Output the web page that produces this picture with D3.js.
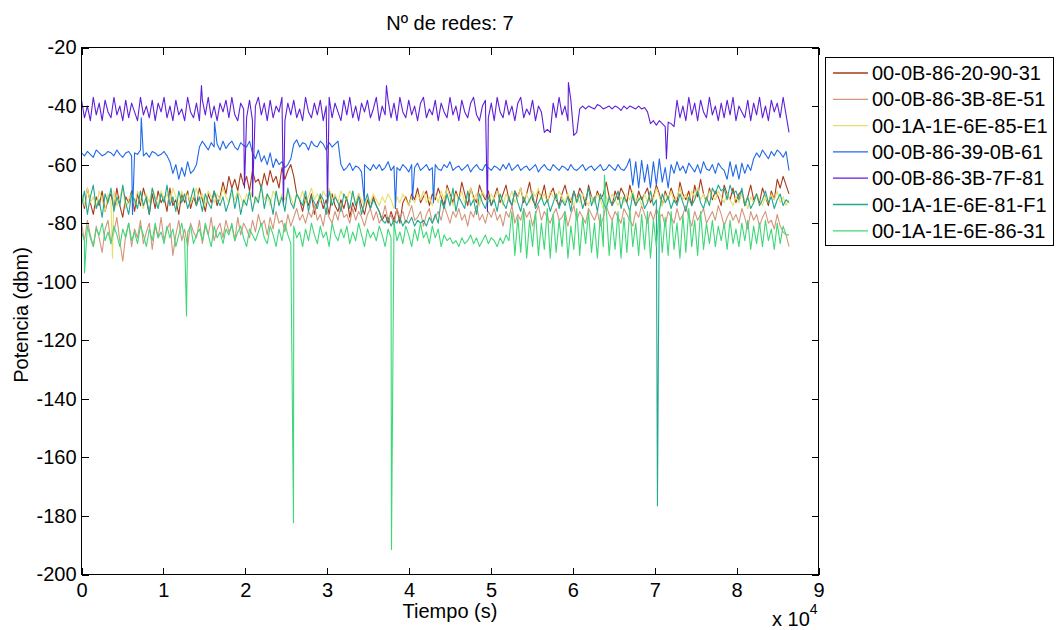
<!DOCTYPE html>
<meta charset="utf-8">
<style>
body { margin: 0; background: #fff; }
text { font-family: Arial, "Liberation Sans", sans-serif; fill: #000; }
.axis path { display: none; }
.axis line { stroke: #000; shape-rendering: crispEdges; }
.axis text { font-size: 20px; }
.serie { fill: none; stroke-width: 1.1px; stroke-linejoin: round; }
</style>
<body>
<script src="https://d3js.org/d3.v7.min.js"></script>
<script>
// one reading every 360 s, 0 .. 86400 s
const step = 360;

const names = ["00-0B-86-20-90-31", "00-0B-86-3B-8E-51", "00-1A-1E-6E-85-E1",
  "00-0B-86-39-0B-61", "00-0B-86-3B-7F-81", "00-1A-1E-6E-81-F1", "00-1A-1E-6E-86-31"];
const colors = ["#a83a1c", "#d4957b", "#e6df6c", "#2069e8", "#5f1fd8", "#21a88f", "#3fd878"];

const red = [-70,-75,-68,-73,-77,-71,-74,-69,-76,-72,-70,-75,-68,-74,-78,-71,-73,-69,-76,-70,
  -74,-68,-72,-77,-70,-75,-69,-73,-71,-76,-68,-74,-72,-77,-70,-73,-69,-75,-71,-74,
  -68,-72,-76,-70,-73,-69,-74,-71,-66,-70,-64,-68,-65,-69,-63,-67,-64,-69,-62,-66,
  -65,-68,-63,-67,-62,-66,-64,-68,-61,-65,-62,-60,-64,-70,-72,-76,-71,-74,-70,-77,
  -73,-71,-75,-72,-77,-70,-74,-76,-72,-75,-71,-78,-73,-76,-70,-74,-77,-72,-75,-71,
  -74,-76,-79,-77,-80,-76,-79,-75,-80,-73,-71,-74,-70,-72,-68,-73,-71,-69,-74,-70,
  -72,-68,-71,-74,-67,-70,-73,-69,-72,-66,-70,-74,-68,-71,-73,-67,-70,-72,-69,-74,
  -71,-68,-73,-70,-67,-72,-74,-69,-71,-68,-73,-70,-66,-72,-74,-69,-71,-67,-73,-70,
  -68,-72,-74,-70,-67,-71,-73,-69,-72,-68,-70,-74,-67,-71,-73,-69,-72,-70,-66,-71,
  -74,-69,-72,-68,-70,-73,-67,-71,-74,-69,-72,-70,-68,-73,-71,-67,-70,-74,-69,-72,
  -68,-71,-73,-66,-70,-72,-69,-74,-67,-71,-65,-70,-73,-68,-72,-69,-71,-74,-67,-70,
  -72,-68,-73,-70,-69,-74,-71,-67,-72,-70,-73,-68,-71,-74,-69,-72,-65,-68,-64,-67,
  -70];
const tan = [-80,-86,-79,-84,-88,-81,-85,-90,-82,-79,-87,-83,-78,-86,-93,-84,-80,-88,-82,-85,
  -79,-87,-83,-80,-89,-81,-85,-78,-86,-82,-80,-91,-84,-79,-86,-82,-88,-80,-83,-85,
  -79,-87,-81,-84,-78,-86,-82,-80,-85,-79,-83,-81,-86,-78,-84,-80,-82,-85,-79,-83,
  -77,-81,-79,-84,-78,-82,-76,-80,-79,-83,-77,-81,-78,-75,-79,-77,-80,-76,-78,-74,
  -79,-77,-81,-75,-78,-80,-76,-79,-74,-78,-77,-80,-75,-79,-76,-78,-81,-77,-75,-79,
  -76,-80,-78,-74,-79,-77,-81,-75,-78,-76,-80,-77,-74,-79,-78,-76,-81,-77,-75,-80,
  -78,-76,-79,-74,-77,-80,-76,-78,-75,-79,-77,-81,-76,-78,-74,-79,-77,-80,-76,-78,
  -75,-79,-77,-81,-76,-78,-74,-80,-77,-79,-75,-78,-76,-81,-77,-74,-79,-76,-78,-80,
  -77,-75,-79,-78,-76,-81,-77,-74,-79,-76,-78,-80,-75,-77,-79,-76,-81,-78,-74,-77,
  -79,-76,-78,-80,-75,-77,-79,-81,-76,-78,-74,-77,-80,-76,-79,-75,-78,-77,-81,-76,
  -78,-80,-75,-79,-77,-74,-78,-81,-76,-79,-77,-75,-80,-78,-76,-79,-74,-77,-81,-78,
  -76,-79,-77,-80,-75,-78,-82,-76,-79,-77,-81,-78,-76,-80,-79,-82,-77,-81,-83,-84,
  -88];
const yellow = [-70,-74,-68,-73,-71,-75,-69,-72,-76,-70,-73,-69,-74,-71,-68,-75,-72,-70,-74,-69,
  -72,-75,-70,-73,-68,-71,-74,-69,-72,-70,-73,-68,-71,-74,-69,-72,-70,-73,-71,-68,
  -72,-70,-74,-69,-71,-73,-70,-72,-68,-71,-73,-70,-72,-69,-71,-74,-70,-72,-69,-73,
  -71,-68,-72,-70,-74,-69,-71,-73,-70,-72,-69,-71,-74,-70,-72,-69,-73,-71,-68,-72,
  -70,-73,-69,-71,-68,-72,-70,-73,-69,-71,-72,-69,-71,-73,-70,-72,-74,-71,-73,-70,
  -72,-74,-71,-73,-70,-72,-75,-71,-73,-70,-72,-74,-71,-73,-70,-72,-69,-73,-71,-74,
  -70,-73,-69,-72,-68,-71,-74,-70,-72,-69,-73,-71,-68,-72,-70,-74,-69,-71,-73,-70,
  -72,-69,-71,-74,-70,-72,-69,-73,-71,-68,-72,-70,-73,-69,-71,-68,-72,-70,-73,-69,
  -71,-72,-69,-71,-73,-70,-72,-74,-71,-73,-70,-72,-74,-71,-73,-70,-72,-75,-71,-73,
  -70,-72,-74,-71,-73,-70,-72,-69,-73,-71,-74,-70,-73,-69,-72,-68,-71,-74,-70,-72,
  -69,-73,-71,-68,-72,-70,-73,-69,-71,-68,-72,-70,-73,-69,-71,-72,-69,-71,-73,-70,
  -72,-74,-71,-73,-70,-72,-75,-71,-73,-70,-72,-74,-71,-73,-70,-72,-69,-73,-71,-74,
  -72];
const blue = [-56,-57,-55.5,-56.5,-57.5,-55,-56,-57,-56.5,-55.5,-56,-57,-55,-56.5,-57.5,-56,-55.5,-57,-56,-56.5,
  -55,-57,-56,-57.5,-55.5,-56,-57,-56.5,-55.5,-57,-59,-63,-60,-65,-61,-64,-59,-63,-62,-60,
  -54,-52,-53.5,-55,-52.5,-54,-53,-55,-52,-54.5,-53,-52,-54,-55,-52.5,-53.5,-54,-52,-56,-58,
  -55,-59,-57,-60,-56,-61,-58,-60,-59,-61,-60,-58,-53,-51.5,-54,-52.5,-53,-55,-52,-53.5,
  -54,-52,-53,-55,-52.5,-54,-53,-52,-60,-62,-61,-59.5,-62,-60.5,-61,-62.5,-60,-61,-62,-60,
  -61.5,-60,-62,-61,-59,-62,-60.5,-61,-62,-60,-61,-62.5,-60,-61,-59.5,-62,-61,-60,-62,-61,
  -60,-61.5,-62,-60,-61,-59,-62,-61,-60.5,-62,-61,-60,-62.5,-61,-60,-61.5,-62,-60,-61,-62,
  -60.5,-61,-62,-60,-61.5,-59.5,-62,-61,-60,-62,-61,-60.5,-62,-61,-60,-62.5,-61,-60,-61.5,-62,
  -60,-61,-62,-60.5,-61,-62,-60,-61.5,-62,-61,-60,-62,-61,-60.5,-62,-61,-60,-62,-61.5,-60,
  -61,-62,-60,-61.5,-62,-60.5,-58,-67,-59,-68,-58.5,-66,-60,-68,-59,-67,-58,-66,-61,-68,
  -60,-63,-59,-62,-60.5,-63,-59.5,-61,-62.5,-60,-63,-59,-61.5,-62,-60,-63,-59.5,-61,-62,-65,
  -59,-64,-60,-65,-59.5,-63,-60,-62,-58,-56,-57.5,-55,-56.5,-58,-55.5,-57,-55,-56,-57.5,-55.5,
  -62];
const purple = [-38,-44,-40,-45,-37,-43,-39,-45,-38,-42,-44,-37,-43,-40,-45,-38,-44,-39,-42,-45,
  -37,-43,-40,-44,-38,-45,-39,-42,-37,-44,-40,-45,-38,-43,-41,-45,-37,-42,-44,-39,
  -45,-38,-43,-37,-44,-40,-45,-39,-42,-38,-44,-37,-43,-45,-39,-41,-44,-38,-45,-40,
  -37,-43,-39,-45,-38,-44,-40,-42,-37,-45,-39,-43,-38,-44,-41,-45,-37,-42,-44,-39,
  -43,-38,-45,-40,-37,-44,-39,-42,-45,-38,-43,-37,-44,-40,-45,-39,-42,-38,-44,-41,
  -37,-45,-40,-43,-38,-44,-39,-45,-37,-42,-44,-38,-43,-40,-45,-39,-37,-44,-41,-43,
  -38,-45,-39,-42,-44,-37,-43,-40,-45,-38,-42,-44,-39,-37,-43,-45,-40,-38,-44,-39,
  -45,-37,-42,-44,-38,-43,-40,-45,-39,-37,-44,-41,-43,-38,-45,-40,-42,-49,-48,-49,
  -39,-44,-37,-43,-40,-45,-38,-50,-49,-41,-40,-41,-40,-40.5,-41,-39.5,-40,-41,-40.5,-40,
  -41,-40,-40.5,-41.5,-40,-41,-40,-40.5,-41,-40,-41,-40.5,-42,-46,-45,-46.5,-45,-46,-47,-45.5,
  -46,-47,-38,-44,-40,-45,-37,-43,-39,-45,-38,-42,-44,-37,-43,-40,-45,-39,-44,-38,
  -43,-37,-45,-40,-42,-44,-38,-45,-39,-43,-37,-44,-40,-45,-38,-42,-39,-44,-37,-43,
  -49];
const teal = [-74,-69,-77,-71,-67,-75,-72,-78,-70,-73,-68,-76,-71,-74,-67,-73,-77,-70,-72,-75,
  -69,-74,-71,-77,-68,-72,-75,-70,-73,-67,-74,-71,-76,-69,-73,-70,-75,-72,-68,-74,
  -71,-76,-70,-73,-75,-69,-72,-74,-71,-76,-73,-68,-75,-70,-77,-72,-74,-69,-76,-71,
  -73,-67,-75,-70,-72,-77,-69,-74,-71,-76,-68,-73,-75,-70,-72,-74,-69,-76,-71,-73,
  -75,-70,-72,-77,-69,-74,-71,-73,-76,-70,-72,-75,-69,-74,-71,-77,-73,-70,-75,-72,
  -74,-76,-79,-80,-78,-81,-79,-80,-78,-81,-79,-80,-78,-81,-79,-80,-79,-81,-78,-80,
  -77,-80,-72,-75,-70,-74,-68,-76,-71,-73,-75,-69,-74,-72,-77,-70,-73,-75,-71,-74,
  -72,-76,-70,-73,-75,-71,-74,-69,-73,-76,-71,-74,-72,-70,-75,-73,-71,-74,-72,-76,
  -73,-70,-75,-72,-74,-71,-76,-69,-73,-70,-75,-72,-68,-74,-71,-76,-70,-73,-75,-71,
  -74,-72,-69,-75,-71,-73,-76,-70,-74,-72,-71,-75,-73,-69,-74,-72,-76,-70,-73,-71,
  -75,-72,-74,-70,-73,-76,-71,-74,-72,-69,-73,-75,-71,-74,-68,-70,-67,-69,-68,-72,
  -67,-70,-69,-72,-68,-74,-71,-75,-73,-70,-74,-72,-69,-73,-71,-75,-72,-70,-74,-72,
  -73];
const green = [-83,-86,-81,-85,-88,-82,-84,-80,-86,-83,-87,-81,-84,-88,-82,-85,-80,-86,-83,-87,
  -81,-84,-88,-82,-86,-80,-85,-83,-87,-81,-85,-82,-88,-84,-80,-86,-83,-81,-87,-84,
  -82,-86,-80,-84,-88,-81,-85,-83,-87,-82,-84,-80,-86,-83,-81,-85,-88,-82,-84,-86,
  -83,-80,-85,-87,-81,-84,-88,-82,-86,-80,-84,-87,-81,-85,-83,-88,-82,-86,-80,-84,
  -87,-81,-85,-83,-88,-80,-84,-86,-82,-85,-81,-87,-83,-86,-80,-84,-88,-82,-85,-83,
  -86,-81,-84,-88,-82,-85,-80,-86,-83,-87,-81,-84,-88,-82,-86,-80,-85,-83,-87,-81,
  -85,-82,-88,-84,-86,-85,-87,-86,-88,-85,-87,-86,-84,-87,-85,-88,-86,-84,-87,-85,
  -86,-88,-85,-87,-84,-86,-76,-91,-78,-90,-75,-92,-79,-88,-76,-91,-80,-89,-75,-92,
  -77,-90,-79,-88,-76,-92,-81,-89,-75,-91,-78,-87,-76,-90,-80,-92,-77,-88,-75,-91,
  -79,-89,-76,-92,-78,-90,-75,-88,-80,-91,-77,-89,-76,-92,-79,-88,-75,-90,-78,-91,
  -76,-89,-80,-92,-77,-90,-75,-88,-79,-91,-76,-89,-80,-87,-79,-88,-81,-86,-80,-89,
  -79,-87,-82,-88,-80,-86,-79,-89,-81,-87,-80,-88,-79,-86,-82,-89,-80,-87,-81,-84,
  -84];

// isolated readings [time s, dBm]
const redSpikes = [];
const tanSpikes = [];
const yellowSpikes = [[3785, -92]];
const blueSpikes = [[6230, -77], [7300, -44], [16240, -45.5], [34550, -73], [38340, -75], [40410, -72], [42980, -73]];
const purpleSpikes = [[14650, -33], [19900, -68], [20880, -71], [24660, -74], [30040, -74], [37240, -33], [49570, -76], [59460, -32], [71430, -58]];
const tealSpikes = [[70330, -176.5]];
const greenSpikes = [[366, -97], [12820, -111.7], [25890, -182.3], [37850, -191.5], [63860, -63.6]];

const series = [[red, redSpikes], [tan, tanSpikes], [yellow, yellowSpikes], [blue, blueSpikes],
  [purple, purpleSpikes], [teal, tealSpikes], [green, greenSpikes]];

const xTicks = d3.range(0, 90001, 10000);
const yTicks = d3.range(-200, -19, 20);

const svg = d3.select("body").append("svg")
  .attr("width", 1056)
  .attr("height", 630);

const x = d3.scaleLinear().domain([0, 90000]).range([81.5, 818.5]);
const y = d3.scaleLinear().domain([-200, -20]).range([574.5, 47.5]);

const line = d3.line()
  .x(function (d) { return x(d[0]); })
  .y(function (d) { return y(d[1]); });

series.forEach(function (s, k) {
  var pts = s[0].map(function (v, i) { return [i * step, v]; });
  s[1].forEach(function (p) { pts.push(p); });
  pts.sort(function (a, b) { return a[0] - b[0]; });
  svg.append("path")
    .attr("class", "serie")
    .attr("stroke", colors[k])
    .attr("d", line(pts));
});

// box + ticks on all four sides
svg.append("rect")
  .attr("x", x(0)).attr("y", y(-20))
  .attr("width", x(90000) - x(0)).attr("height", y(-200) - y(-20))
  .attr("fill", "none").attr("stroke", "#000")
  .attr("shape-rendering", "crispEdges");

svg.append("g").attr("class", "axis")
  .attr("transform", "translate(0," + y(-200) + ")")
  .call(d3.axisBottom(x).tickValues(xTicks).tickFormat(function (d) { return String(d / 1e4); })
    .tickSizeInner(-7).tickSizeOuter(0).tickPadding(8));
svg.append("g").attr("class", "axis")
  .attr("transform", "translate(0," + y(-20) + ")")
  .call(d3.axisTop(x).tickValues(xTicks).tickFormat("").tickSizeInner(-7).tickSizeOuter(0));
svg.append("g").attr("class", "axis")
  .attr("transform", "translate(" + x(0) + ",0)")
  .call(d3.axisLeft(y).tickValues(yTicks).tickFormat(function (d) { return String(d); })
    .tickSizeInner(-7).tickSizeOuter(0).tickPadding(5));
svg.append("g").attr("class", "axis")
  .attr("transform", "translate(" + x(90000) + ",0)")
  .call(d3.axisRight(y).tickValues(yTicks).tickFormat("").tickSizeInner(-7).tickSizeOuter(0));

// titles
svg.append("text")
  .attr("x", 450).attr("y", 30)
  .attr("text-anchor", "middle")
  .style("font-size", "20px")
  .text("Nº de redes: 7");

svg.append("text")
  .attr("x", 450).attr("y", 618)
  .attr("text-anchor", "middle")
  .style("font-size", "20px")
  .text("Tiempo (s)");

svg.append("text")
  .attr("transform", "translate(28,315) rotate(-90)")
  .attr("text-anchor", "middle")
  .style("font-size", "20px")
  .text("Potencia (dbm)");

var exp = svg.append("text").attr("x", 772).attr("y", 626).style("font-size", "20px");
exp.append("tspan").text("x 10");
exp.append("tspan").attr("dy", -12).style("font-size", "14px").text("4");

// legend
const legend = svg.append("g").attr("class", "legend");
legend.append("rect")
  .attr("x", 825.5).attr("y", 57.5)
  .attr("width", 228).attr("height", 188)
  .attr("fill", "#fff").attr("stroke", "#000");

const rows = legend.selectAll(".row")
  .data(names)
  .enter().append("g")
  .attr("transform", function (d, i) { return "translate(0," + (73 + i * 26.3) + ")"; });
rows.append("line")
  .attr("x1", 833).attr("x2", 868)
  .attr("stroke", function (d, i) { return colors[i]; })
  .attr("stroke-width", 1.3);
rows.append("text")
  .attr("x", 872).attr("dy", "0.35em")
  .style("font-size", "20px")
  .text(function (d) { return d; });
</script>
</body>
